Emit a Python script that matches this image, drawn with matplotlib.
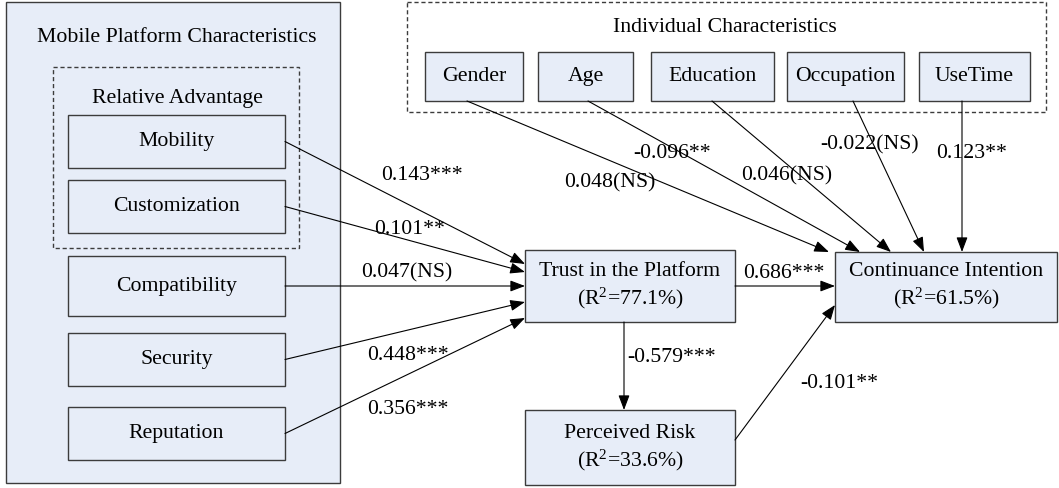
"""
Path model: mobile platform characteristics -> trust -> continuance intention.
"""

import matplotlib
matplotlib.use("Agg")
import matplotlib.pyplot as plt
from matplotlib.patches import Rectangle

# Data
platform_factors = ["Mobility", "Customization", "Compatibility", "Security", "Reputation"]
platform_coefs = ["0.143***", "0.101**", "0.047(NS)", "0.448***", "0.356***"]

individual_factors = ["Gender", "Age", "Education", "Occupation", "UseTime"]
individual_coefs = ["0.048(NS)", "-0.096**", "0.046(NS)", "-0.022(NS)", "0.123**"]

trust_r2 = 77.1
risk_r2 = 33.6
intention_r2 = 61.5
trust_to_intention = "0.686***"
trust_to_risk = "-0.579***"
risk_to_intention = "-0.101**"

# Style
plt.rcParams["font.family"] = ["Liberation Serif", "DejaVu Serif"]
plt.rcParams["mathtext.default"] = "regular"
FILL = "#E7EDF8"
EDGE = "#3c3c3c"
FS = 15.7

fig = plt.figure(figsize=(10.59, 4.88), dpi=100)
ax = fig.add_axes([0, 0, 1, 1])
ax.set_xlim(0, 1059)
ax.set_ylim(488, 0)
ax.axis("off")


def box(x0, y0, x1, y1, fill=FILL, dashed=False, lw=1.0):
    ax.add_patch(Rectangle((x0, y0), x1 - x0, y1 - y0,
                           facecolor=fill if fill else "none",
                           edgecolor=EDGE, lw=lw,
                           linestyle=(0, (3, 2)) if dashed else "-"))


def text(x, y, s, ha="center"):
    ax.text(x, y, s, fontsize=FS, ha=ha, va="center", color="black")


def arrow(p0, p1):
    ax.annotate("", xy=p1, xytext=p0,
                arrowprops=dict(arrowstyle="-|>,head_length=0.9,head_width=0.34",
                                lw=0.8, color="black", shrinkA=0, shrinkB=0))


# Outer group: mobile platform characteristics
box(6, 2, 340, 483)
text(177, 37, "Mobile Platform Characteristics")
box(53, 67, 299, 248, fill=None, dashed=True)
text(177, 98, "Relative Advantage")

left_boxes = [(115, 168), (180, 233), (256, 316), (333, 386), (407, 460)]
left_heads = [264, 272, 286, 302, 318]
left_label_pos = [(422, 175), (410, 230), (407, 273), (408, 355), (408, 410)]
for name, coef, (y0, y1), yh, (lx, ly) in zip(platform_factors, platform_coefs,
                                             left_boxes, left_heads, left_label_pos):
    box(68, y0, 285, y1)
    text(176.5, (y0 + y1) / 2, name)
    arrow((285, (y0 + y1) / 2), (525, yh))
    text(lx, ly, coef)

# Individual characteristics
box(407, 2, 1046, 112, fill=None, dashed=True)
text(725, 27, "Individual Characteristics")
top_boxes = [(425, 523), (538, 633), (651, 774), (787, 904), (919, 1030)]
top_starts = [467, 588, 712, 853, 962]
top_heads = [829, 860, 891, 924, 962]
top_label_pos = [(610, 183), (672, 153), (787, 176), (870, 145), (972, 154)]
for name, coef, (x0, x1), xs, xh, (lx, ly) in zip(individual_factors, individual_coefs,
                                                  top_boxes, top_starts, top_heads,
                                                  top_label_pos):
    box(x0, 52, x1, 101)
    text((x0 + x1) / 2, 76.5, name)
    arrow((xs, 101), (xh, 252))
    text(lx, ly, coef)

# Mediators and outcome
box(525, 250, 735, 322)
text(630, 271, "Trust in the Platform")
text(630, 298, "(R$^{2}$=%.1f%%)" % trust_r2)

box(525, 410, 735, 485)
text(630, 433, "Perceived Risk")
text(630, 460, "(R$^{2}$=%.1f%%)" % risk_r2)

box(835, 252, 1057, 322)
text(946, 272, "Continuance Intention")
text(946, 298, "(R$^{2}$=%.1f%%)" % intention_r2)

arrow((735, 286), (835, 286))
text(784, 273, trust_to_intention)
arrow((624, 322), (624, 410))
text(672, 358, trust_to_risk)
arrow((735, 440), (835, 305))
text(839, 383, risk_to_intention)

fig.savefig("out.png", dpi=100)
